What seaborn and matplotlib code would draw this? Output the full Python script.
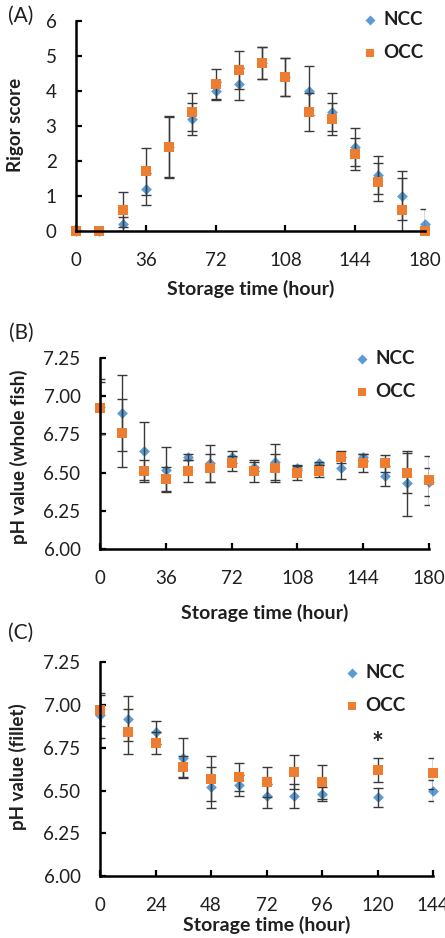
import numpy as np
import pandas as pd
import matplotlib
matplotlib.use("Agg")
import matplotlib.pyplot as plt
import seaborn as sns

# ---- data -------------------------------------------------------------
hours_16 = [0, 12, 24, 36, 48, 60, 72, 84, 96, 108, 120, 132, 144, 156, 168, 180]
hours_11 = [0, 12, 24, 36, 48, 60, 72, 84, 96, 120, 144]

rigor_ncc = [0, 0, 0.2, 1.2, 2.4, 3.2, 4.0, 4.2, 4.8, 4.4, 4.0, 3.4, 2.4, 1.6, 1.0, 0.2]
rigor_ncc_sd = [0, 0, 0.2, 0.45, 0.85, 0.45, 0.25, 0.45, 0.46, 0.55, 0.7, 0.53, 0.55, 0.55, 0.7, 0.43]
rigor_occ = [0, 0, 0.6, 1.7, 2.4, 3.4, 4.2, 4.6, 4.8, 4.4, 3.4, 3.2, 2.2, 1.4, 0.6, 0]
rigor_occ_sd = [0, 0, 0.5, 0.66, 0.88, 0.53, 0.43, 0.55, 0.46, 0.55, 0.55, 0.45, 0.45, 0.55, 0.9, 0]

ph_whole_ncc = [6.93, 6.89, 6.64, 6.52, 6.60, 6.56, 6.60, 6.54, 6.57, 6.53, 6.56, 6.53, 6.60, 6.48, 6.43, 6.44]
ph_whole_ncc_sd = [0.18, 0.25, 0.19, 0.145, 0.02, 0.12, 0.04, 0.03, 0.12, 0.015, 0.01, 0.07, 0.025, 0.065, 0.21, 0.09]
ph_whole_occ = [6.92, 6.76, 6.51, 6.46, 6.51, 6.53, 6.56, 6.51, 6.53, 6.50, 6.51, 6.60, 6.565, 6.56, 6.50, 6.45]
ph_whole_occ_sd = [0.17, 0.22, 0.07, 0.08, 0.07, 0.09, 0.05, 0.07, 0.09, 0.05, 0.04, 0.04, 0.06, 0.055, 0.13, 0.16]

ph_fillet_ncc = [6.94, 6.92, 6.84, 6.69, 6.52, 6.53, 6.47, 6.47, 6.48, 6.46, 6.50]
ph_fillet_ncc_sd = [0.13, 0.13, 0.065, 0.115, 0.12, 0.06, 0.07, 0.07, 0.04, 0.055, 0.06]
ph_fillet_occ = [6.97, 6.845, 6.78, 6.64, 6.57, 6.58, 6.55, 6.61, 6.55, 6.62, 6.60]
ph_fillet_occ_sd = [0.09, 0.13, 0.065, 0.06, 0.13, 0.08, 0.09, 0.10, 0.10, 0.07, 0.09]

groups = ["NCC", "OCC"]
panel_tags = ["(A)", "(B)", "(C)"]
y_titles = ["Rigor score", "pH value (whole fish)", "pH value (fillet)"]
x_title = "Storage time (hour)"
signif_hour = 120
signif_mark = "*"

# ---- style --------------------------------------------------------------
sns.set_theme(style="white")
plt.rcParams["font.family"] = ["Lato", "DejaVu Sans"]
plt.rcParams["axes.unicode_minus"] = False

C_NCC = "#5B9BD5"
C_OCC = "#ED7D31"
C_ERR = "#3A3A3A"
TXT = "#1f1f1f"

W, H = 445, 938
fig = plt.figure(figsize=(W / 100, H / 100), dpi=100)


def px_axes(left, top, right, bottom):
    return fig.add_axes([left / W, 1 - bottom / H, (right - left) / W, (bottom - top) / H])


def draw_panel(ax, hours, ncc, ncc_sd, occ, occ_sd, xlim, xticks, ylim, yticks, yfmt):
    df = pd.DataFrame({
        "hour": list(hours) * 2,
        "value": list(ncc) + list(occ),
        "sd": list(ncc_sd) + list(occ_sd),
        "group": [groups[0]] * len(hours) + [groups[1]] * len(hours),
    })
    d_n = df[df.group == groups[0]]
    d_o = df[df.group == groups[1]]
    sns.scatterplot(data=d_n, x="hour", y="value", marker="D", s=30, color=C_NCC,
                    linewidth=0, ax=ax, zorder=3, clip_on=False, label=groups[0])
    ax.errorbar(df["hour"], df["value"], yerr=df["sd"], fmt="none", ecolor=C_ERR,
                elinewidth=1.0, capsize=3.4, capthick=1.0, zorder=4)
    sns.scatterplot(data=d_o, x="hour", y="value", marker="s", s=52, color=C_OCC,
                    linewidth=0, ax=ax, zorder=5, clip_on=False, label=groups[1])
    ax.set_xlim(*xlim)
    ax.set_ylim(*ylim)
    ax.set_xticks(xticks)
    ax.set_yticks(yticks)
    ax.set_yticklabels([yfmt.format(v) for v in yticks])
    sns.despine(ax=ax)
    for s in ("left", "bottom"):
        ax.spines[s].set_linewidth(1.8)
        ax.spines[s].set_color("black")
        ax.spines[s].set_zorder(6)
    ax.tick_params(axis="both", direction="in", length=4, width=1.6, color="black",
                   labelsize=13.5, labelcolor=TXT, left=True, bottom=True)
    ax.tick_params(axis="y", pad=14)
    ax.tick_params(axis="x", pad=15)
    ax.set_xlabel(x_title, fontsize=14, fontweight="bold", color=TXT)
    ax.xaxis.label.set_va("center")
    return ax


def place_labels(ax, geom, ylab, ylab_xy, xlab_y, leg_xy):
    left, top, right, bottom = geom
    ax.set_ylabel(ylab, fontsize=13.5, fontweight="bold", color=TXT)
    ax.yaxis.label.set_va("center")
    ax.yaxis.set_label_coords((ylab_xy[0] - left) / (right - left),
                              (bottom - ylab_xy[1]) / (bottom - top))
    ax.xaxis.set_label_coords(0.5, (bottom - xlab_y) / (bottom - top))
    leg = ax.legend(loc="upper left", bbox_to_anchor=(leg_xy[0] / W, 1 - leg_xy[1] / H),
                    bbox_transform=fig.transFigure, frameon=False, handlelength=0.6,
                    handletextpad=0.45, labelspacing=0.85, borderaxespad=0, borderpad=0,
                    prop={"weight": "bold", "size": 13.5})
    for t in leg.get_texts():
        t.set_color(TXT)
    for h in leg.legend_handles:
        h.set_sizes([26])


# panel A
geomA = (76, 21, 425, 231)
axA = px_axes(*geomA)
draw_panel(axA, hours_16, rigor_ncc, rigor_ncc_sd, rigor_occ, rigor_occ_sd,
           (0, 180), range(0, 181, 36), (0, 6), range(0, 7), "{:d}")
place_labels(axA, geomA, y_titles[0], (16, 125), 289, (364, 11))

# panel B
geomB = (100, 357.7, 429, 549.3)
axB = px_axes(*geomB)
draw_panel(axB, hours_16, ph_whole_ncc, ph_whole_ncc_sd, ph_whole_occ, ph_whole_occ_sd,
           (0, 180), range(0, 181, 36), (6.0, 7.25), np.arange(6.0, 7.26, 0.25), "{:.2f}")
place_labels(axB, geomB, y_titles[1], (19, 457), 613, (356, 350))

# panel C
geomC = (100, 662.3, 433, 876)
axC = px_axes(*geomC)
draw_panel(axC, hours_11, ph_fillet_ncc, ph_fillet_ncc_sd, ph_fillet_occ, ph_fillet_occ_sd,
           (0, 144), range(0, 145, 24), (6.0, 7.25), np.arange(6.0, 7.26, 0.25), "{:.2f}")
place_labels(axC, geomC, y_titles[2], (18, 767), 925, (346, 664))
i = hours_11.index(signif_hour)
axC.text(signif_hour, max(ph_fillet_ncc[i] + ph_fillet_ncc_sd[i], ph_fillet_occ[i] + ph_fillet_occ_sd[i]) + 0.08,
         signif_mark, ha="center", va="center", fontsize=20, fontweight="bold", color=TXT)

# panel tags
for tag, (x, y) in zip(panel_tags, [(21, 16), (21, 333), (21, 633)]):
    fig.text(x / W, 1 - y / H, tag, ha="center", va="center", fontsize=15, color=TXT)

fig.savefig("out.png", dpi=100)
